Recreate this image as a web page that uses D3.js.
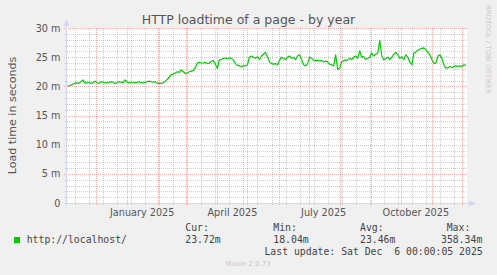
<!DOCTYPE html>
<html>
<head>
<meta charset="utf-8">
<script src="https://cdn.jsdelivr.net/npm/d3@7"></script>
<style>
body{margin:0;background:#f0f0f0;}
svg{display:block;}
text{font-family:"DejaVu Sans",sans-serif;fill:#555;}
text.mono{font-family:"DejaVu Sans Mono",monospace;fill:#444;}
</style>
</head>
<body>
<svg></svg>
<script>
// one value every 2 days, from the first day of the graph
var startDay = "2024-11-02";
var endDay = "2025-12-06";
var stepDays = 2;
var values = [
20.05,20.1,20.2,20.4,20.5,20.6,20.5,20.8,21.1,20.5,
20.7,20.7,20.5,20.6,20.9,20.6,20.5,20.8,20.7,20.6,
20.6,20.7,20.8,20.7,20.5,20.6,20.8,20.7,20.6,21.1,
20.7,20.6,20.7,20.7,20.6,20.7,20.8,20.6,20.6,20.7,
20.8,20.9,20.8,20.7,20.8,20.5,20.5,20.5,20.6,20.9,
21.2,21.6,22.0,22.1,22.3,22.5,22.4,22.8,22.5,22.2,
22.3,22.5,22.6,22.7,23.2,24.0,24.1,24.0,24.0,24.1,
23.9,24.0,24.3,24.4,23.8,23.1,24.5,24.6,24.8,24.9,
24.7,24.9,24.8,24.5,23.9,23.6,23.5,23.4,23.5,23.5,
23.7,25.0,25.2,25.0,24.8,25.1,24.6,25.2,25.5,25.8,
25.1,24.2,23.9,23.8,23.9,23.7,24.5,25.0,24.8,24.6,
25.0,25.2,24.8,25.0,24.6,25.2,25.4,24.6,23.7,23.5,
23.9,25.0,24.8,24.5,24.4,24.5,24.35,24.4,24.2,24.35,
24.2,23.8,23.7,23.5,25.4,22.9,23.1,24.2,24.4,24.5,
24.5,24.8,24.6,25.0,25.2,24.8,26.1,25.0,25.1,24.6,
24.8,25.0,25.7,25.2,25.5,25.7,27.9,25.2,24.5,24.8,
25.0,24.6,25.0,25.5,25.8,25.4,24.8,25.1,24.6,25.4,
25.0,24.2,23.7,25.7,25.9,26.2,26.4,26.5,26.6,26.3,
25.8,25.4,24.6,23.9,24.0,25.2,25.4,24.8,23.7,23.1,
23.2,23.4,23.2,23.4,23.5,23.4,23.5,23.4,23.7,23.6
];
var yTicks = [0, 5, 10, 15, 20, 25, 30];
var monthLabels = ["2025-01-01", "2025-04-01", "2025-07-01", "2025-10-01"];
var minorStart = "2024-11-10";
var title = "HTTP loadtime of a page - by year";
var vLabel = "Load time in seconds";
var seriesName = "http://localhost/";
var legendHeads = ["Cur:", "Min:", "Avg:", "Max:"];
var legendVals = ["23.72m", "18.04m", "23.46m", "358.34m"];
var lastUpdate = "Last update: Sat Dec  6 00:00:05 2025";
var watermark = "Munin 2.0.73";
var sideText = "RRDTOOL / TOBI OETIKER";

var width = 497, height = 275;
var pLeft = 67, pRight = 467, pTop = 28, pBottom = 203;
var headX = [185.3, 273.3, 360, 446.7];
var valX = [185.3, 273.3, 360, 441];
var gridColor = "rgba(128,128,128,0.38)";
var mgridColor = "rgba(235,0,0,0.3)";
var axisColor = "#cfd6f8";

var parse = d3.timeParse("%Y-%m-%d");
var t0 = parse(startDay), t1 = parse(endDay);

var x = d3.scaleTime().domain([t0, t1]).range([pLeft, pRight]);
var y = d3.scaleLinear().domain([0, 30]).range([pBottom, pTop]);

var data = values.map((v, i) => ({date: d3.timeDay.offset(t0, i*stepDays), value: v}));

var svg = d3.select("svg").attr("width", width).attr("height", height);

svg.append("rect")
.attr("x", pLeft).attr("y", pTop)
.attr("width", pRight-pLeft).attr("height", pBottom-pTop)
.attr("fill", "#fff");

// horizontal grid
var minorY = d3.range(1, 30).filter(v => v % 5);
var majorY = yTicks.filter(v => v > 0);

var grid = svg.append("g").attr("shape-rendering", "crispEdges");

grid.selectAll("line.hminor")
.data(minorY)
.enter().append("line").classed("hminor", true)
.attr("x1", pLeft-2).attr("x2", pRight)
.attr("y1", d => Math.round(y(d))+0.5).attr("y2", d => Math.round(y(d))+0.5)
.attr("stroke", gridColor).attr("stroke-dasharray", "1,1");

// vertical grid
var majorX = d3.timeMonth.range(d3.timeMonth.ceil(t0), t1);
var minorX = d3.timeWeek.range(parse(minorStart), t1, 2);

grid.selectAll("line.vminor")
.data(minorX)
.enter().append("line").classed("vminor", true)
.attr("x1", d => Math.round(x(d))+0.5).attr("x2", d => Math.round(x(d))+0.5)
.attr("y1", pTop).attr("y2", pBottom+2)
.attr("stroke", gridColor).attr("stroke-dasharray", "1,1");

grid.selectAll("line.hmajor")
.data(majorY)
.enter().append("line").classed("hmajor", true)
.attr("x1", pLeft-3).attr("x2", pRight)
.attr("y1", d => Math.round(y(d))+0.5).attr("y2", d => Math.round(y(d))+0.5)
.attr("stroke", mgridColor).attr("stroke-dasharray", "1,1");

grid.selectAll("line.vmajor")
.data(majorX)
.enter().append("line").classed("vmajor", true)
.attr("x1", d => Math.round(x(d))+0.5).attr("x2", d => Math.round(x(d))+0.5)
.attr("y1", pTop).attr("y2", pBottom+3)
.attr("stroke", mgridColor).attr("stroke-dasharray", "1,1");

// axes with arrows
grid.append("line")
.attr("x1", pLeft-3).attr("x2", pRight+3)
.attr("y1", pBottom+0.5).attr("y2", pBottom+0.5)
.attr("stroke", axisColor);
grid.append("line")
.attr("x1", pLeft-0.5).attr("x2", pLeft-0.5)
.attr("y1", pBottom+3).attr("y2", pTop-3)
.attr("stroke", axisColor);

svg.append("path")
.attr("d", d3.line()([[pRight+2, pBottom-2.5], [pRight+9, pBottom+0.5], [pRight+2, pBottom+3.5]]) + "Z")
.attr("fill", axisColor);
svg.append("path")
.attr("d", d3.line()([[pLeft-3.5, pTop-2], [pLeft-0.5, pTop-9], [pLeft+2.5, pTop-2]]) + "Z")
.attr("fill", axisColor);

// series
svg.append("path")
.datum(data)
.attr("d", d3.line().x(d => x(d.date)).y(d => y(d.value)))
.attr("fill", "none")
.attr("stroke", "#00cc00")
.attr("stroke-width", 1.2)
.attr("stroke-linejoin", "round");

// y tick labels
svg.selectAll("text.ytick")
.data(yTicks)
.enter().append("text").classed("ytick", true)
.attr("x", pLeft-6.5)
.attr("y", d => y(d)+3.5)
.attr("text-anchor", "end")
.style("font-size", "9.7px")
.text(d => d ? d + " m" : "0");

// x labels, centred on the middle of the month
var fmt = d3.timeFormat("%B %Y");
svg.selectAll("text.xlabel")
.data(monthLabels.map(parse))
.enter().append("text").classed("xlabel", true)
.attr("x", d => x(d3.timeDay.offset(d, 15)))
.attr("y", pBottom+13)
.attr("text-anchor", "middle")
.style("font-size", "9.7px")
.text(d => fmt(d));

svg.append("text")
.attr("x", 248.5).attr("y", 24)
.attr("text-anchor", "middle")
.style("font-size", "12.5px")
.text(title);

svg.append("text")
.attr("transform", "translate(15.5," + (pTop+pBottom)/2 + ") rotate(-90)")
.attr("text-anchor", "middle")
.style("font-size", "11.1px")
.text(vLabel);

svg.append("text")
.attr("transform", "translate(485.5,5) rotate(90)")
.style("font-size", "6.9px")
.style("fill", "#c8c8c8")
.text(sideText);

// legend
svg.append("rect")
.attr("x", 14).attr("y", 237)
.attr("width", 6).attr("height", 6)
.attr("fill", "#00cc00");

svg.append("text").classed("mono", true)
.attr("x", 26.7).attr("y", 242.7)
.style("font-size", "9.8px")
.text(seriesName);

svg.selectAll("text.head")
.data(legendHeads)
.enter().append("text").classed("mono head", true)
.attr("x", (d, i) => headX[i]).attr("y", 230.7)
.style("font-size", "9.8px")
.text(d => d);

svg.selectAll("text.val")
.data(legendVals)
.enter().append("text").classed("mono val", true)
.attr("x", (d, i) => valX[i]).attr("y", 242.7)
.style("font-size", "9.8px")
.text(d => d);

svg.append("text").classed("mono", true)
.attr("x", 482.7).attr("y", 254.7)
.attr("text-anchor", "end")
.style("white-space", "pre")
.style("font-size", "9.8px")
.text(lastUpdate);

svg.append("text")
.attr("x", 248).attr("y", 266)
.attr("text-anchor", "middle")
.style("font-size", "6.9px")
.style("fill", "#c8c8c8")
.text(watermark);
</script>
</body>
</html>
